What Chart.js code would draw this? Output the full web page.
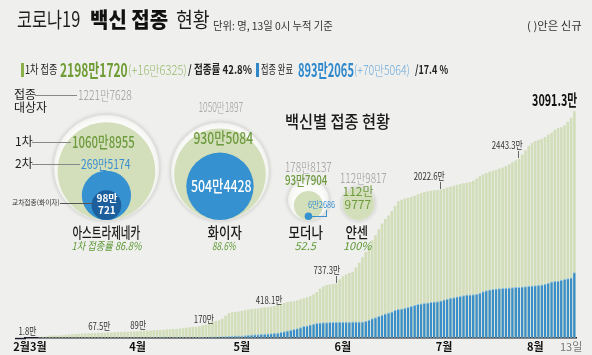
<!DOCTYPE html>
<html><head><meta charset="utf-8">
<script src="https://cdn.jsdelivr.net/npm/chart.js@4.4.1/dist/chart.umd.min.js"></script>
<style>
html,body{margin:0;padding:0;background:#efefed;}
#wrap{position:relative;width:592px;height:355px;overflow:hidden;background:#efefed;font-family:"Noto Sans CJK KR","Noto Sans",sans-serif;}
canvas{position:absolute;left:0;top:0;}
#texts{position:absolute;left:0;top:0;width:592px;height:355px;}
.t{position:absolute;white-space:nowrap;line-height:1;}
.ln{position:absolute;}
</style></head><body>
<div id="wrap">
<canvas id="bars" width="592" height="355"></canvas>
<canvas id="bubbles" width="592" height="355"></canvas>
<div id="texts"></div>
</div>
<script>
// ---------- DATA ----------
// cumulative total doses (1st + 2nd), 만 (10,000) units, daily from 2021-02-26 to 2021-08-13
const totalDoses = [
 1.8,2.0,2.1,2.2,8.7,15,22,27,30,31,
 33,36,40,45,50,53,55,57,59,61,
 63,66,67.5,68,69,72,74,76,79,80,
 81,83,85,87,89,92,96,98,100,102,
 105,108,111,114,117,119,121,126,132,138,
 144,149,152,158,170,182,200,218,230,240,
 260,300,335,350,353,358,368,376,385,392,
 396,400,410,414,418.1,425,435,450,462,475,
 490,496,500,508,525,540,555,570,595,625,
 670,700,720,728,733,737.3,800,840,865,885,
 900,960,1025,1100,1170,1250,1330,1400,1480,1560,
 1620,1670,1730,1800,1865,1885,1900,1912,1925,1940,
 1958,1975,1990,2000,2008,2013,2018,2022.6,2035,2050,
 2062,2075,2090,2100,2108,2115,2125,2145,2175,2205,
 2230,2250,2265,2280,2295,2310,2325,2345,2370,2395,
 2420,2443.3,2500,2560,2620,2660,2685,2700,2715,2740,
 2770,2800,2840,2862,2875,2900,2950,3004.2,3091.3
];
// cumulative 2nd dose (접종 완료), 만
const secondDoses = [
 0,0,0,0,0,0,0,0,0,0,
 0,0,0,0,0,0,0,0,0,0,
 0,0,0.2,0.4,0.8,1.2,1.6,2,2.4,2.8,
 3.2,3.6,4,4.5,5,5.3,5.6,5.8,6,6.1,
 6.2,6.3,6.4,6.5,6.6,6.7,6.8,7,7.2,7.5,
 8,8.5,9,10,11,12,14,16,18,19,
 20,22,25,28,30,31,33,36,40,44,
 48,50,52,55,58,62,66,70,78,88,
 100,110,120,130,145,160,168,180,192,203,
 208,211,213,215,216,217,218,219,220,220,
 221,222,223,224,228,245,268,282,298,315,
 330,345,360,378,392,400,410,422,435,447,
 460,468,476,483,490,495,500,510,522,533,
 545,555,565,572,582,590,592,595,600,615,
 635,650,658,665,672,677,681,684,687,690,
 692,695,700,705,710,713,716,720,728,738,
 752,768,775,780,790,802,812,822.7,893.2
];
const annotIdx  = [0, 22, 34, 54, 74, 95, 127, 151, 168];
const annotText = ['1.8만','67.5만','89만','170만','418.1만','737.3만','2022.6만','2443.3만','3091.3만'];
const annotTick = [false,false,false,false,false,true,true,true,false];
const tickIdx  = [1, 34, 66, 97, 128, 156, 167];
const tickText = ['2월3월','4월','5월','6월','7월','8월','13일'];

const vaccines   = ['아스트라제네카','화이자','모더나','얀센'];
const targetPop  = [1221.7628, 1050.1897, 178.8137, 112.9817];
const firstDose  = [1060.8955, 930.5084, 93.7904, 112.9777];
const secondDose = [269.5174, 504.4428, 6.2686, null];
const crossDose  = [98.0721, null, null, null];
const firstRate  = ['1차 접종률 86.8%','88.6%','52.5','100%'];

// dates (category axis)
const dates = totalDoses.map((_, i) => { const d = new Date(2021, 1, 26 + i); return (d.getMonth()+1) + '/' + d.getDate(); });

// ---------- TEXT HELPERS ----------
const layer = document.getElementById('texts');
function mk(text, o) {
  const el = document.createElement('div');
  el.className = 't';
  el.textContent = text;
  const size = o.size || 12;
  el.style.fontSize = size + 'px';
  el.style.fontWeight = o.weight || 400;
  el.style.color = o.color || '#222';
  if (o.italic) el.style.fontStyle = 'italic';
  if (o.family) el.style.fontFamily = o.family;
  layer.appendChild(el);
  const nat = el.offsetWidth;
  const s = o.w ? o.w / nat : (o.sx || 1);
  const align = o.align || 'left';
  let left = o.x;
  if (align === 'center') { left = o.x - nat / 2; el.style.transformOrigin = '50% 50%'; }
  else if (align === 'right') { left = o.x - nat; el.style.transformOrigin = '100% 50%'; }
  else el.style.transformOrigin = '0 50%';
  el.style.left = left + 'px';
  el.style.top = (o.y - size * 0.57) + 'px';
  el.style.transform = 'scaleX(' + s + ')';
  return el;
}
function box(x, y, w, h, c) {
  const el = document.createElement('div');
  el.className = 'ln';
  el.style.cssText += `left:${x}px;top:${y}px;width:${w}px;height:${h}px;background:${c};`;
  layer.appendChild(el);
}

// ---------- BAR CHART ----------
const annotPlugin = {
  id: 'annot',
  afterDraw(chart) {
    const xs = chart.scales.x, ys = chart.scales.y, ctx = chart.ctx;
    ctx.save();
    ctx.strokeStyle = '#1b1b2b'; ctx.lineWidth = 1.5;
    ctx.beginPath(); ctx.moveTo(15, chart.chartArea.bottom + 0.75); ctx.lineTo(chart.chartArea.left + 1, chart.chartArea.bottom + 0.75); ctx.stroke();
    ctx.restore();
    annotIdx.forEach((idx, k) => {
      const x = xs.getPixelForValue(idx);
      const top = ys.getPixelForValue(totalDoses[idx]);
      if (k === annotIdx.length - 1) {
        mk(annotText[k], {x: x + 3, y: top - 11, size: 16, weight: 700, color: '#111', align: 'right', w: 45});
      } else if (annotTick[k]) {
        box(x - 0.5, top - 8, 1, 7, '#666');
        mk(annotText[k], {x: x + 4, y: top - 13, size: 10, color: '#333', align: 'right', sx: 0.78});
      } else {
        mk(annotText[k], {x: x + 1, y: top - 6, size: 10, color: '#333', align: 'center', sx: 0.78});
      }
    });
  }
};

new Chart(document.getElementById('bars'), {
  type: 'bar',
  data: {
    labels: dates,
    datasets: [
      {label: '접종 완료', data: secondDoses, backgroundColor: '#3a8fca', borderColor: '#86bfe6',
       borderWidth: {top: 1, left: 0, right: 0, bottom: 0}, borderSkipped: 'bottom',
       grouped: false, barPercentage: 0.8, categoryPercentage: 1},
      {label: '누적 접종', data: totalDoses, backgroundColor: '#d2ddba',
       grouped: false, barPercentage: 0.8, categoryPercentage: 1}
    ]
  },
  options: {
    responsive: false, animation: false, events: [], devicePixelRatio: 1,
    layout: {padding: {left: 25, right: 16, top: 96, bottom: 0}, autoPadding: false},
    plugins: {legend: {display: false}, tooltip: {enabled: false}},
    scales: {
      x: {
        grid: {display: false, drawTicks: false},
        border: {display: true, color: '#1b1b2b', width: 1.5},
        ticks: {
          autoSkip: false, maxRotation: 0, minRotation: 0, padding: 2,
          font: (c) => ({family: '"Noto Sans CJK KR"', size: 11, weight: (tickIdx.indexOf(c.index) === tickIdx.length - 1) ? 'normal' : 'bold'}),
          color: (c) => (tickIdx.indexOf(c.index) === tickIdx.length - 1) ? '#777' : '#111',
          callback: (v, i) => { const k = tickIdx.indexOf(i); return k < 0 ? '' : tickText[k]; }
        }
      },
      y: {display: false, min: 0, max: 3300}
    }
  },
  plugins: [annotPlugin]
});

// ---------- BUBBLES (vaccine nested circles) ----------
const kR = 1.5, baseY = 220, leftStart = 54, gaps = [12.5, 19.8, 14];
const rad = (v) => kR * Math.sqrt(v);
const cx = [];
targetPop.forEach((v, i) => {
  if (i === 0) cx.push(leftStart + rad(v));
  else cx.push(cx[i-1] + rad(targetPop[i-1]) + gaps[i-1] + rad(v));
});
const pts = (arr) => arr.map((v, i) => v == null ? null : {x: cx[i], y: baseY - rad(v), r: rad(v)}).filter(p => p);

const shadowPlugin = {
  id: 'shadow',
  beforeDatasetDraw(chart, args) {
    if (args.index === 3) { const c = chart.ctx; c.save(); c.shadowColor = 'rgba(0,0,0,0.18)'; c.shadowBlur = 5; }
  },
  afterDatasetDraw(chart, args) {
    if (args.index === 3) chart.ctx.restore();
  }
};

new Chart(document.getElementById('bubbles'), {
  type: 'bubble',
  data: {
    datasets: [
      {label: '교차접종', data: pts(crossDose), backgroundColor: '#1d5f9d', borderWidth: 0},
      {label: '2차', data: pts(secondDose), backgroundColor: '#3591cf', borderWidth: 0},
      {label: '1차', data: pts(firstDose), backgroundColor: '#d3dfbb', borderWidth: 0},
      {label: '접종 대상자', data: pts(targetPop), backgroundColor: '#fbfbf9', borderColor: '#ececE8', borderWidth: 1}
    ]
  },
  options: {
    responsive: false, animation: false, events: [], devicePixelRatio: 1,
    layout: {padding: 0, autoPadding: false},
    plugins: {legend: {display: false}, tooltip: {enabled: false}},
    scales: {
      x: {type: 'linear', display: false, min: 0, max: 592},
      y: {type: 'linear', display: false, min: 0, max: 355, reverse: true}
    }
  },
  plugins: [shadowPlugin]
});

// ---------- STATIC TEXTS ----------
const G = '#6e9b3e', B = '#3a8fd0', GR = '#9a9a9a', GI = '#5e9a36';
mk('코로나19', {x: 17, y: 20, size: 21, color: '#1e1e1e', w: 63});
mk('백신 접종', {x: 90, y: 20, size: 21, weight: 900, color: '#111', w: 78});
mk('현황', {x: 176, y: 20, size: 21, color: '#1e1e1e', w: 34});
mk('단위: 명, 13일 0시 누적 기준', {x: 213, y: 26, size: 11, color: '#333', w: 120});
mk('( )안은 신규', {x: 527, y: 26, size: 11, color: '#333', w: 55});

box(20.7, 63, 3.3, 14, '#8cb04a');
mk('1차 접종', {x: 25, y: 70, size: 12, color: '#222', w: 32});
mk('2198만1720', {x: 60, y: 70, size: 18, weight: 700, color: '#6f9c34', w: 68});
mk('(+16만6325)', {x: 128, y: 70, size: 13, weight: 300, color: '#97bb6b', w: 59});
mk('/ 접종률 42.8%', {x: 188, y: 70, size: 12, weight: 700, color: '#222', w: 64});
box(256, 63, 3.3, 14, '#2f87c8');
mk('접종 완료', {x: 261, y: 70, size: 12, color: '#222', w: 32});
mk('893만2065', {x: 298, y: 70, size: 18, weight: 700, color: '#2d88cc', w: 56});
mk('(+70만5064)', {x: 354, y: 70, size: 13, weight: 300, color: '#6da9da', w: 56});
mk('/17.4 %', {x: 415, y: 70, size: 12, weight: 700, color: '#222', w: 33});

mk('접종', {x: 14, y: 95, size: 12, color: '#222'});
mk('대상자', {x: 14, y: 108, size: 12, color: '#222'});
box(35, 95, 42, 1, '#888');
mk('1221만7628', {x: 78, y: 95, size: 13, weight: 300, color: GR, w: 54});
mk('1차', {x: 15, y: 142, size: 12, color: '#222'});
box(32, 142, 39, 1, '#888');
mk('1060만8955', {x: 72, y: 142, size: 16, weight: 500, color: G, w: 63});
mk('2차', {x: 15, y: 164, size: 12, color: '#222'});
box(32, 164, 48, 1, '#888');
mk('269만5174', {x: 81, y: 164, size: 13, color: B, w: 49});
mk('교차접종(화이자)', {x: 12, y: 203, size: 7, color: '#333', w: 48});
box(60, 203, 33, 1, '#555');
mk('98만', {x: 107, y: 199, size: 10, weight: 700, color: '#fff', align: 'center'});
mk('721', {x: 107, y: 211, size: 10, weight: 700, color: '#fff', align: 'center'});
mk(vaccines[0], {x: 106, y: 233, size: 15, weight: 500, color: '#1a1a1a', align: 'center', w: 68});
mk(firstRate[0], {x: 106, y: 246, size: 11, italic: true, color: GI, align: 'center', w: 70});

mk('1050만1897', {x: 221, y: 107, size: 13, weight: 300, color: GR, align: 'center', w: 45});
mk('930만5084', {x: 223, y: 138, size: 16, weight: 500, color: G, align: 'center', w: 60});
mk('504만4428', {x: 221, y: 186, size: 16, weight: 500, color: '#fff', align: 'center', w: 61});
mk(vaccines[1], {x: 224, y: 233, size: 15, weight: 500, color: '#1a1a1a', align: 'center', w: 34});
mk(firstRate[1], {x: 224, y: 246, size: 11, italic: true, color: GI, align: 'center', w: 24});

mk('백신별 접종 현황', {x: 285, y: 122, size: 17, weight: 500, color: '#1a1a1a', w: 105});
mk('178만8137', {x: 285, y: 167, size: 13, weight: 300, color: GR, w: 47});
mk('93만7904', {x: 285, y: 180, size: 13, weight: 500, color: G, w: 42});
mk('6만2686', {x: 308, y: 205, size: 9, color: B, w: 27});
box(312, 216, 14, 1, B);
box(326, 210, 1, 7, B);
mk('112만9817', {x: 340, y: 178, size: 13, weight: 300, color: GR, w: 47});
mk('112만', {x: 358, y: 192, size: 12, color: G, align: 'center'});
mk('9777', {x: 358, y: 205, size: 12, color: G, align: 'center'});
mk(vaccines[2], {x: 305, y: 233, size: 15, weight: 500, color: '#1a1a1a', align: 'center', w: 34});
mk(firstRate[2], {x: 305, y: 246, size: 11, italic: true, color: GI, align: 'center'});
mk(vaccines[3], {x: 357, y: 233, size: 15, weight: 500, color: '#1a1a1a', align: 'center', w: 23});
mk(firstRate[3], {x: 357, y: 246, size: 11, italic: true, color: GI, align: 'center'});
</script>
</body></html>
